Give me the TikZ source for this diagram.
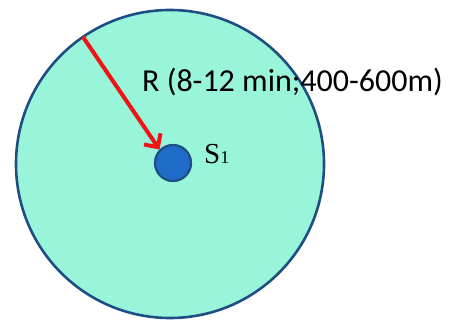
\documentclass[tikz,border=0pt]{standalone}
\usepackage{fontspec}
\setmainfont{Liberation Serif}
\newfontfamily\labelfont{Carlito}
\usetikzlibrary{arrows.meta}
\definecolor{zonefill}{RGB}{153,245,218}
\definecolor{zoneline}{RGB}{30,78,130}
\definecolor{stopfill}{RGB}{30,108,200}
\definecolor{arrowred}{RGB}{240,20,20}
\tikzset{
  zone/.style={circle, draw=zoneline, fill=zonefill, line width=2.6pt, minimum size=308pt, inner sep=0pt},
  stop/.style={circle, draw=zoneline, fill=stopfill, line width=2.2pt, minimum size=36pt, inner sep=0pt},
  radius arrow/.style={draw=arrowred, line width=4pt, -{Straight Barb[length=10pt,width=20pt,line width=4pt]}},
  big label/.style={font=\labelfont\fontsize{32}{36}\selectfont, inner sep=0pt, anchor=base west},
  stop label/.style={font=\fontsize{29}{32}\selectfont, inner sep=0pt, anchor=base west}
}
\begin{document}
\begin{tikzpicture}[x=1pt,y=-1pt]
\useasboundingbox (0,0) rectangle (450,320);
\node[zone] (zone) at (170,164) {};
\node[stop] (s1) at (173,163) {};
\coordinate (edge) at (83,37);
\draw[radius arrow] (edge) -- (s1.north west);
\node[big label] (rlabel) at (142,92) {R (8-12 min;400-600m)};
\node[stop label] (s1label) at (204,164) {S{\fontsize{18}{20}\selectfont 1}};
\end{tikzpicture}
\end{document}
